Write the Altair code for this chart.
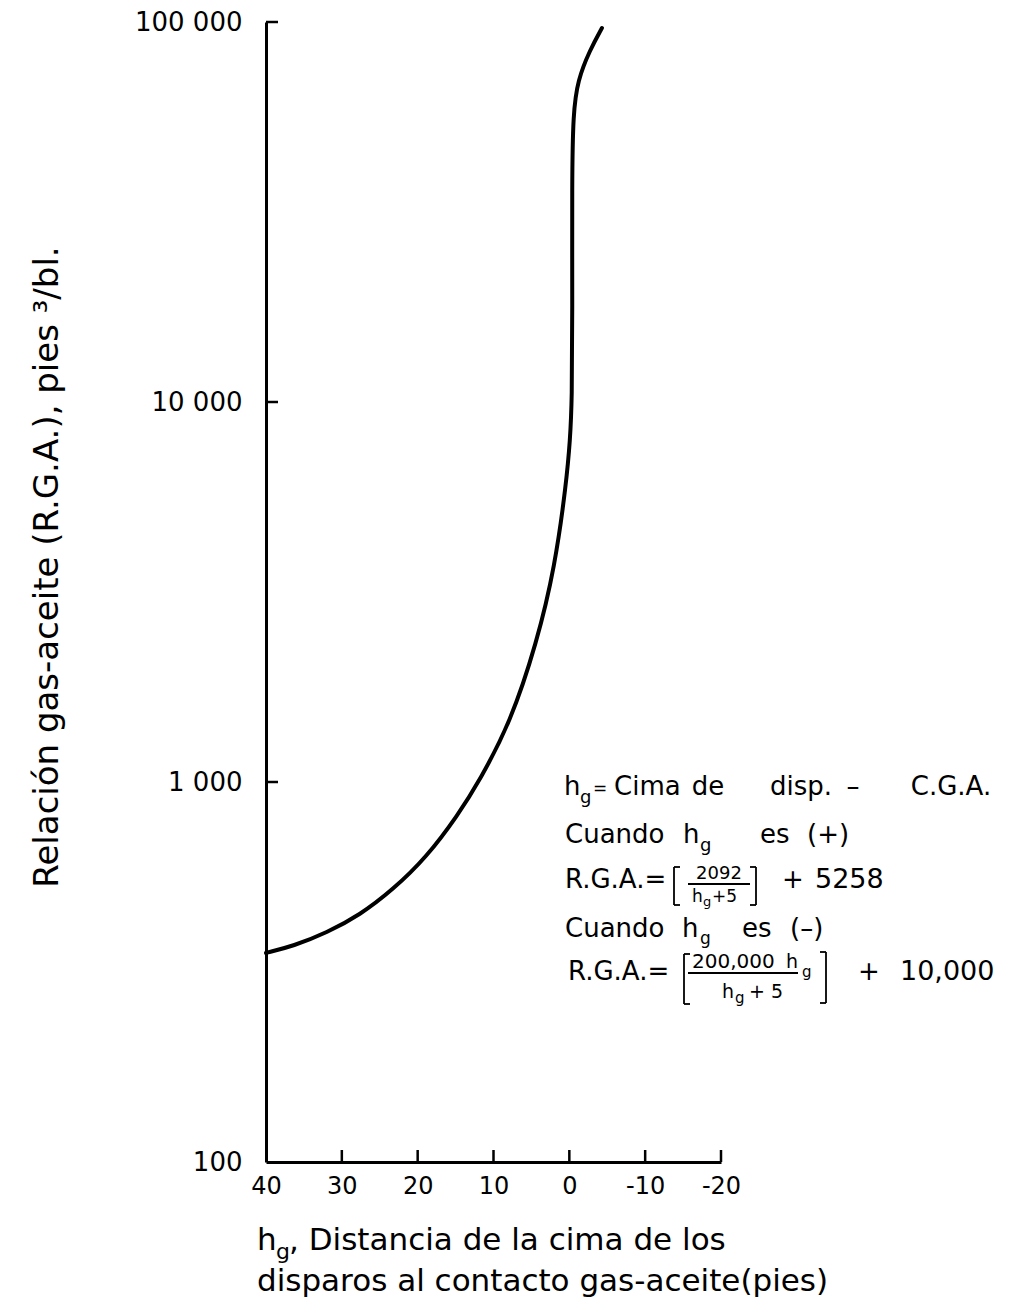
import altair as alt
import pandas as pd

# ---------------- data ----------------
hg = [40, 36.4, 32.0, 27.6, 23.3, 18.8, 14.7, 11.8, 7.8, 4.3, 1.9, 0.4,
      -0.1, -0.35, -0.4, -0.35, -0.5, -1.1, -2.7, -4.3]
rga = [355, 370, 401, 447, 520, 635, 818, 1012, 1429, 2322, 3681, 6120,
       7940, 10120, 17140, 38400, 57500, 70300, 84300, 96400]
x_ticks = [40, 30, 20, 10, 0, -10, -20]
y_ticks = [100, 1000, 10000, 100000]

FONT = "DejaVu Sans"
W, H = 455, 1140
OX, OY = 266, 22  # page position of plot origin

curve_df = pd.DataFrame({"hg": hg, "rga": rga, "order": list(range(len(hg)))})

xscale = alt.Scale(domain=[-20, 40], reverse=True, nice=False, zero=False)
yscale = alt.Scale(type="log", domain=[100, 100000], nice=False)

curve = alt.Chart(curve_df).mark_line(
    color="black", strokeWidth=4, interpolate="basis", strokeCap="round"
).encode(
    x=alt.X("hg:Q", scale=xscale, axis=alt.Axis(
        values=x_ticks, title=None, grid=False, ticks=False,
        domainColor="black", domainWidth=3,
        labelFont=FONT, labelFontSize=24, labelColor="black",
        labelPadding=12, labelFlush=False, labelOverlap=False,
        labelExpr="'' + datum.value")),
    y=alt.Y("rga:Q", scale=yscale, axis=alt.Axis(
        values=y_ticks, title=None, grid=False, ticks=False,
        domainColor="black", domainWidth=3,
        labelFont=FONT, labelFontSize=26, labelColor="black",
        labelPadding=24, labelFlush=False, labelOverlap=False,
        labelExpr="datum.value >= 1000 ? format(datum.value / 1000, 'd') + ' 000' : format(datum.value, 'd')")),
    order="order:Q",
)

# inward tick marks
xt_df = pd.DataFrame({"t": x_ticks[1:]})
x_tick_marks = alt.Chart(xt_df).mark_rule(color="black", strokeWidth=2.5).encode(
    x=alt.X("t:Q", scale=xscale), y=alt.value(H), y2=alt.value(H - 12))
yt_df = pd.DataFrame({"t": y_ticks[1:]})
y_tick_marks = alt.Chart(yt_df).mark_rule(color="black", strokeWidth=2.5).encode(
    y=alt.Y("t:Q", scale=yscale), x=alt.value(0), x2=alt.value(12))

one = pd.DataFrame({"a": [0]})


def txt(s, x, y, size=26, align="left", baseline="alphabetic", angle=0):
    kw = dict(text=s, align=align, baseline=baseline, fontSize=size,
              font=FONT, color="black")
    if angle:
        kw["angle"] = angle
    return alt.Chart(one).mark_text(**kw).encode(
        x=alt.value(x - OX), y=alt.value(y - OY))


def rule(x1, y1, x2, y2, w=1.8):
    return alt.Chart(one).mark_rule(color="black", strokeWidth=w).encode(
        x=alt.value(x1 - OX), y=alt.value(y1 - OY),
        x2=alt.value(x2 - OX), y2=alt.value(y2 - OY))


def lbracket(x, y1, y2):
    return [rule(x, y1, x, y2), rule(x, y1, x + 6, y1), rule(x, y2, x + 6, y2)]


def rbracket(x, y1, y2):
    return [rule(x, y1, x, y2), rule(x - 6, y1, x, y1), rule(x - 6, y2, x, y2)]


layers = [curve, x_tick_marks, y_tick_marks]

# axis titles
layers.append(txt("Relación  gas-aceite (R.G.A.), pies ³/bl.", 48, 567,
                  size=34, align="center", baseline="middle", angle=270))
layers += [
    txt("h", 257, 1250, 31),
    txt("g", 276, 1259, 22),
    txt(", Distancia de la cima de los", 289, 1250, 31),
    txt("disparos al contacto gas-aceite(pies)", 257, 1291, 31),
]

# annotation block
layers += [
    # line 1
    txt("h", 564, 795), txt("g", 580, 803, 18), txt("=", 593, 794, 17),
    txt("Cima", 614, 795), txt("de", 708, 795, align="center"),
    txt("disp.", 801, 795, align="center"),
    txt("–", 853, 795, align="center"), txt("C.G.A.", 951, 795, align="center"),
    # line 2
    txt("Cuando", 565, 843), txt("h", 683, 843), txt("g", 700, 851, 18),
    txt("es", 760, 843), txt("(+)", 807, 843),
    # line 3
    txt("R.G.A.=", 565, 888),
    txt("2092", 719, 879, 18, align="center"),
    rule(688, 884, 750, 884),
    txt("h", 692, 902, 17), txt("g", 703, 906, 13), txt("+5", 712, 902, 17),
    txt("+", 782, 888), txt("5258", 815, 888, 27),
    # line 4
    txt("Cuando", 565, 937), txt("h", 682, 937), txt("g", 700, 944, 17),
    txt("es", 742, 937), txt("(–)", 790, 937),
    # line 5
    txt("R.G.A.=", 568, 980),
    txt("200,000", 692, 968, 20), txt("h", 786, 968, 19), txt("g", 802, 977, 15),
    rule(688, 973, 798, 973),
    txt("h", 722, 998, 19), txt("g", 735, 1003, 15), txt("+ 5", 749, 998, 19),
    txt("+", 858, 980), txt("10,000", 900, 980, 27),
]
layers += lbracket(674, 867, 905) + rbracket(756, 867, 905)
layers += lbracket(684, 954, 1004) + rbracket(826, 952, 1003)

chart = alt.layer(*layers).properties(
    width=W, height=H,
    autosize=alt.AutoSizeParams(type="none"),
    padding={"left": 258, "top": 14, "right": 283, "bottom": 135},
).configure(background="white").configure_view(stroke=None)

chart.save("out.html", embed_options={"renderer": "svg", "actions": False})
